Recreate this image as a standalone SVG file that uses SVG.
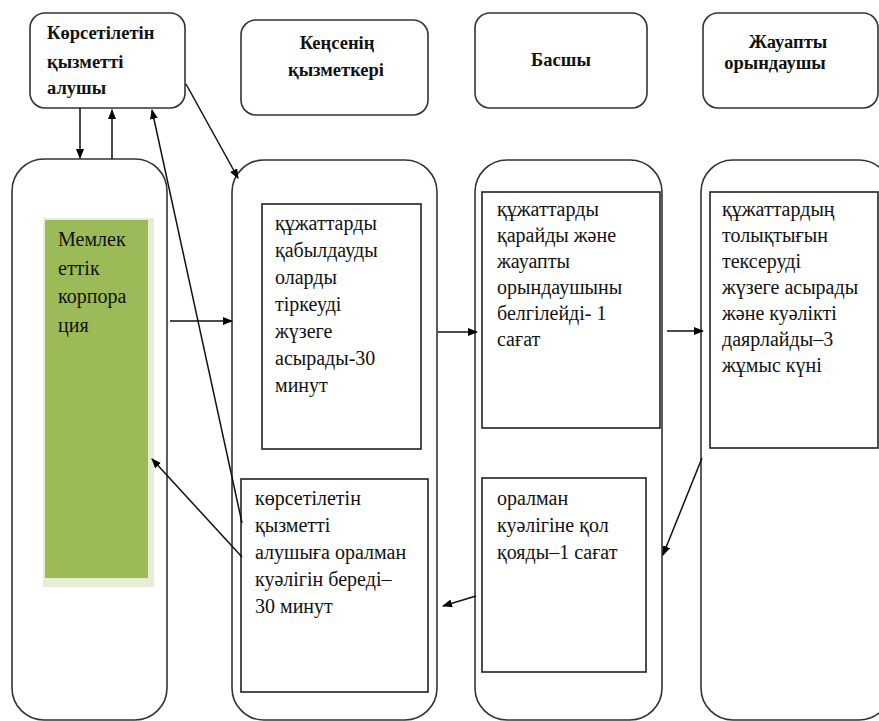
<svg xmlns="http://www.w3.org/2000/svg" width="879" height="721" viewBox="0 0 879 721">
<defs>
<marker id="ah" markerWidth="10" markerHeight="8" refX="9" refY="4" orient="auto" markerUnits="userSpaceOnUse">
<path d="M0,0 L10,4 L0,8 Z" fill="#000"/>
</marker>
<style>
.box{fill:#fff;stroke:#333;stroke-width:1.6}
.lane{fill:none;stroke:#333;stroke-width:1.6}
.in{fill:#fff;stroke:#222;stroke-width:1.6}
.h{font-family:"Liberation Serif","Times New Roman",serif;font-size:18.5px;font-weight:bold;fill:#111}
.t{font-family:"Liberation Serif","Times New Roman",serif;font-size:20px;fill:#111}
.c{stroke:#111;stroke-width:1.5;fill:none;marker-end:url(#ah)}
</style>
</defs>
<rect width="879" height="721" fill="#fff"/>
<g id="lane1"><rect class="lane" x="12" y="159" width="155" height="561" rx="32"/></g>
<g id="lane2"><rect class="lane" x="232" y="160" width="205" height="560" rx="32"/></g>
<g id="lane3"><rect class="lane" x="475" y="160" width="187" height="560" rx="32"/></g>
<g id="lane4"><rect class="lane" x="701" y="160" width="190" height="560" rx="32"/></g>

<g id="n-recipient"><rect class="box" x="30" y="13" width="155" height="95" rx="15"/>
<text class="h" x="47" y="39">Көрсетілетін</text><text class="h" x="47" y="68">қызметті</text><text class="h" x="47" y="94">алушы</text></g>
<g id="n-office"><rect class="box" x="241" y="20" width="187" height="95" rx="15"/>
<text class="h" x="337" y="49" text-anchor="middle">Кеңсенің</text><text class="h" x="336" y="76" text-anchor="middle">қызметкері</text></g>
<g id="n-head"><rect class="box" x="475" y="13" width="172" height="95" rx="15"/>
<text class="h" x="561" y="66" text-anchor="middle">Басшы</text></g>
<g id="n-exec"><rect class="box" x="703" y="13" width="175" height="95" rx="15"/>
<text class="h" x="788" y="48" text-anchor="middle">Жауапты</text><text class="h" x="775" y="69" text-anchor="middle">орындаушы</text></g>

<g id="n-corp"><rect x="43" y="218" width="111" height="369" fill="#E6EED5"/><rect x="45" y="220" width="103" height="358" fill="#9BBB59"/>
<text class="t" x="58" y="246">Мемлек</text><text class="t" x="58" y="275">еттік</text><text class="t" x="58" y="303">корпора</text><text class="t" x="58" y="332">ция</text></g>

<g id="n-a"><rect class="in" x="262" y="204" width="159" height="245"/>
<text class="t" x="275" y="230">құжаттарды</text><text class="t" x="275" y="257">қабылдауды</text><text class="t" x="275" y="284">оларды</text><text class="t" x="275" y="311">тіркеуді</text><text class="t" x="275" y="338">жүзеге</text><text class="t" x="275" y="365">асырады-30</text><text class="t" x="275" y="392">минут</text></g>

<g id="n-b"><rect class="in" x="482" y="192" width="178" height="236"/>
<text class="t" x="497" y="216">құжаттарды</text><text class="t" x="497" y="242">қарайды және</text><text class="t" x="497" y="268">жауапты</text><text class="t" x="497" y="294">орындаушыны</text><text class="t" x="497" y="320">белгілейді- 1</text><text class="t" x="497" y="346">сағат</text></g>

<g id="n-c"><rect class="in" x="710" y="192" width="168" height="256"/>
<text class="t" x="722" y="216">құжаттардың</text><text class="t" x="722" y="242">толықтығын</text><text class="t" x="722" y="268">тексеруді</text><text class="t" x="722" y="294">жүзеге асырады</text><text class="t" x="722" y="320">және куәлікті</text><text class="t" x="722" y="346">даярлайды–3</text><text class="t" x="722" y="372">жұмыс күні</text></g>

<g id="n-d"><rect class="in" x="241" y="479" width="187" height="213"/>
<text class="t" x="255" y="505">көрсетілетін</text><text class="t" x="255" y="532">қызметті</text><text class="t" x="255" y="559">алушыға оралман</text><text class="t" x="255" y="586">куәлігін береді–</text><text class="t" x="255" y="613">30 минут</text></g>

<g id="n-e"><rect class="in" x="482" y="478" width="164" height="194"/>
<text class="t" x="497" y="505">оралман</text><text class="t" x="497" y="532">куәлігіне қол</text><text class="t" x="497" y="559">қояды–1 сағат</text></g>

<g id="connectors">
<line class="c" x1="80" y1="108" x2="80" y2="158"/>
<line class="c" x1="112" y1="159" x2="112" y2="110"/>
<line class="c" x1="242" y1="523" x2="152" y2="110"/>
<line class="c" x1="186" y1="84" x2="238" y2="178"/>
<line class="c" x1="170" y1="321" x2="232" y2="321"/>
<line class="c" x1="438" y1="332" x2="477" y2="332"/>
<line class="c" x1="667" y1="331" x2="703" y2="331"/>
<line class="c" x1="702" y1="458" x2="663" y2="555"/>
<line class="c" x1="476" y1="596" x2="443" y2="606"/>
<line class="c" x1="242" y1="557" x2="152" y2="459"/>
</g>
</svg>
